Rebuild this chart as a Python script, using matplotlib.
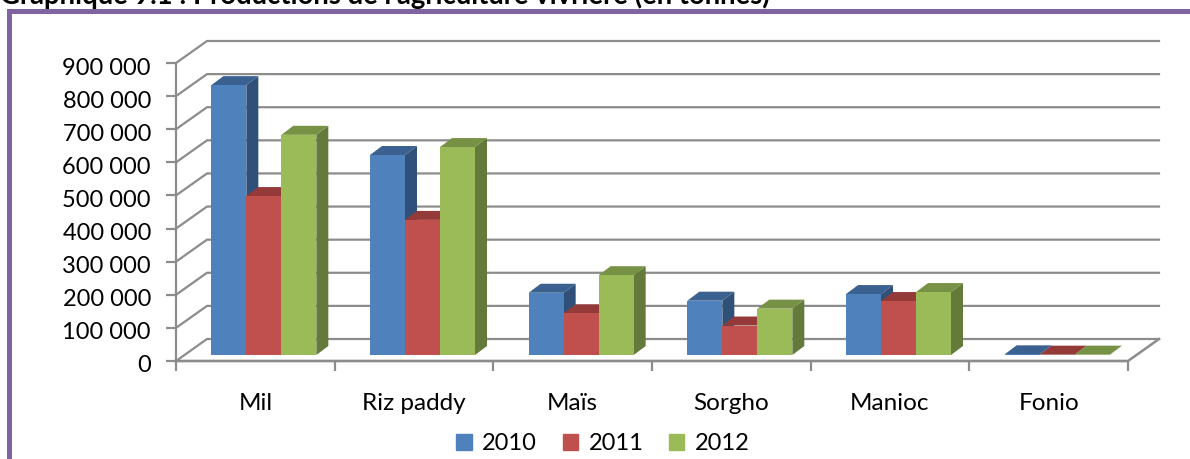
import matplotlib
matplotlib.use("Agg")
import matplotlib.pyplot as plt
from matplotlib.patches import Polygon, Rectangle
from matplotlib.transforms import ScaledTranslation

plt.rcParams['font.family'] = ['Lato', 'DejaVu Sans']

categories = ["Mil", "Riz paddy", "Maïs", "Sorgho", "Manioc", "Fonio"]
years = ["2010", "2011", "2012"]
values_2010 = [815000, 604000, 188000, 164000, 184000, 2000]
values_2011 = [480000, 408000, 126000, 89000, 163000, 1000]
values_2012 = [665000, 628000, 241000, 140000, 190000, 1000]
y_ticks = [0, 100000, 200000, 300000, 400000, 500000, 600000, 700000, 800000, 900000]
y_labels = ["0", "100 000", "200 000", "300 000", "400 000", "500 000",
            "600 000", "700 000", "800 000", "900 000"]

front_colors = ["#4f81bd", "#c0504d", "#9bbb59"]
top_colors = ["#3a6190", "#943b39", "#779145"]
side_colors = ["#2f5078", "#7c312f", "#647a3a"]
grid_color = "#8c8c8c"

W, H = 1190, 459
fig = plt.figure(figsize=(W / 100, H / 100), dpi=100)
ax = fig.add_axes([176 / W, 1 - 361 / H, 952 / W, 298 / H])
ax.set_xlim(0, 6)
ax.set_ylim(0, 900000)
ax.patch.set_visible(False)

# pixels -> data units for the fake depth
px_x = 6 / 952
px_y = 900000 / 298
wall_dx, wall_dy = 31 * px_x, 22 * px_y
bar_dx, bar_dy = 12 * px_x, 9 * px_y
base_dx, base_dy = 8.5 * px_x, 6 * px_y
bar_w = 35 * px_x

# back wall gridlines + slanted lines on the left wall
for v in y_ticks:
    ax.plot([0, wall_dx, 6 + wall_dx], [v, v + wall_dy, v + wall_dy],
            color=grid_color, lw=1.6, clip_on=False, zorder=1, solid_joinstyle="miter")
# floor front and right edges
ax.plot([0, 6, 6 + wall_dx], [0, 0, wall_dy], color=grid_color, lw=1.8, clip_on=False, zorder=1)

# draw bars left to right
series = [values_2010, values_2011, values_2012]
for c in range(len(categories)):
    for s in range(3):
        v = series[s][c]
        x0 = c + 0.5 + (s - 1.5) * bar_w + base_dx
        x1 = x0 + bar_w
        y0 = base_dy
        y1 = v + base_dy
        side = Polygon([(x1, y0), (x1 + bar_dx, y0 + bar_dy), (x1 + bar_dx, y1 + bar_dy), (x1, y1)],
                       facecolor=side_colors[s], edgecolor="none", clip_on=False, zorder=3 + s)
        top = Polygon([(x0, y1), (x0 + bar_dx, y1 + bar_dy), (x1 + bar_dx, y1 + bar_dy), (x1, y1)],
                      facecolor=top_colors[s], edgecolor="none", clip_on=False, zorder=3 + s)
        ax.add_patch(side)
        ax.add_patch(top)
        ax.bar(x0, v, width=bar_w, bottom=y0, align="edge", color=front_colors[s],
               clip_on=False, zorder=3 + s)

for name in ["top", "right"]:
    ax.spines[name].set_visible(False)
for name in ["left", "bottom"]:
    ax.spines[name].set_color(grid_color)
    ax.spines[name].set_linewidth(1.6)
    ax.spines[name].set_zorder(2)

ax.set_yticks(y_ticks)
ax.set_yticklabels(y_labels, fontsize=17, color="black")
ax.set_xticks(range(7))
ax.set_xticklabels([])
ax.tick_params(axis="both", color=grid_color, width=1.6, length=7)
ax.tick_params(axis="y", pad=11)
# labels sit a little below their ticks in the reference
shift = ScaledTranslation(0, -3 / 100, fig.dpi_scale_trans)
for lab in ax.get_yticklabels():
    lab.set_transform(lab.get_transform() + shift)

for i, name in enumerate(categories):
    ax.annotate(name, (i + 0.5, 0), xytext=(0, -43), textcoords="offset pixels",
                ha="center", va="center", fontsize=17.5, color="black")

# legend
handles = [Rectangle((0, 0), 1, 1, color=col) for col in front_colors]
fig.legend(handles, years, loc="center", bbox_to_anchor=(603 / W, 1 - 444 / H), ncol=3,
           frameon=False, fontsize=17, handlelength=0.65, handleheight=0.65,
           handletextpad=0.45, columnspacing=1.08, borderpad=0)

# purple frame and the cut off heading
fig.add_artist(Rectangle((8.5 / W, -0.02), 1.1, 1 - 10.5 / H + 0.02, transform=fig.transFigure,
                         facecolor="none", edgecolor="#8064a2", linewidth=3.6))
fig.text(0 / W, 1 - 4 / H, "Graphique 9.1 : Productions de l'agriculture vivrière (en tonnes)",
         fontsize=19.8, fontweight="bold", va="baseline", ha="left", color="black")

fig.savefig("out.png", dpi=100)
